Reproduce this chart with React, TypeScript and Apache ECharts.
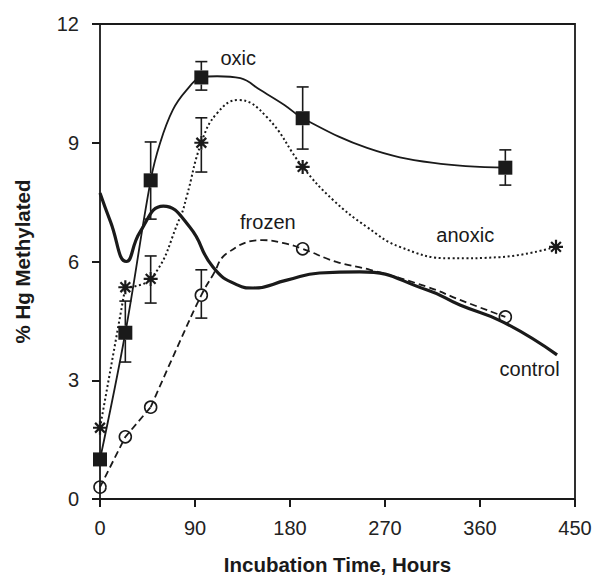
import React, { useEffect, useRef } from "react";
import * as echarts from "echarts";

// Axis ticks
const xTicks = [0, 90, 180, 270, 360, 450];
const yTicks = [0, 3, 6, 9, 12];

// Measured points (hours, % Hg methylated)
const oxicX = [0, 24, 48, 96, 192, 384];
const oxicY = [1.0, 4.2, 8.05, 10.65, 9.62, 8.37];
const oxicHi = [null, 5.0, 9.02, 11.05, 10.41, 8.82];
const oxicLo = [null, 3.46, 7.07, 10.33, 8.84, 7.93];

const anoxicX = [0, 24, 48, 96, 192, 432];
const anoxicY = [1.8, 5.35, 5.56, 9.0, 8.39, 6.37];
const anoxicHi = [null, null, 6.14, 9.63, null, null];
const anoxicLo = [null, null, 4.95, 8.26, null, null];

const frozenX = [0, 24, 48, 96, 192, 384];
const frozenY = [0.3, 1.57, 2.32, 5.15, 6.32, 4.6];
const frozenHi = [null, null, null, 5.79, null, null];
const frozenLo = [null, null, null, 4.57, null, null];

// Fitted curves
const oxicCurveX = [0, 24, 48, 57, 69, 82, 96, 111, 133, 152, 175, 192, 253, 316, 384];
const oxicCurveY = [1.0, 4.2, 8.05, 9.0, 9.83, 10.33, 10.65, 10.68, 10.63, 10.33, 9.95, 9.62, 8.87, 8.49, 8.37];

const anoxicCurveX = [0, 24, 48, 76, 82, 96, 111, 131, 158, 192, 221, 253, 284, 332, 379, 432];
const anoxicCurveY = [1.8, 5.35, 5.56, 7.12, 7.63, 9.0, 9.75, 10.08, 9.65, 8.39, 7.55, 6.87, 6.37, 6.08, 6.11, 6.37];

const frozenCurveX = [0, 24, 48, 76, 96, 107, 120, 154, 173, 192, 224, 256, 310, 341, 384];
const frozenCurveY = [0.3, 1.57, 2.32, 4.0, 5.15, 5.66, 6.2, 6.54, 6.47, 6.32, 5.99, 5.79, 5.36, 5.03, 4.6];

const controlX = [0, 10, 25, 38, 60, 85, 107, 130, 145, 177, 208, 246, 310, 341, 382, 433];
const controlY = [7.73, 7.0, 6.0, 6.75, 7.4, 6.87, 5.86, 5.41, 5.33, 5.53, 5.71, 5.74, 5.28, 4.9, 4.47, 3.64];

// Curve labels
const labelNames = ["oxic", "frozen", "anoxic", "control"];
const labelX = [131, 159, 346, 407];
const labelY = [11.14, 7.0, 6.67, 3.28];

const FONT = "'Liberation Sans', Arial, Helvetica, sans-serif";
const INK = "#1a1a1a";

const pairs = (xs: number[], ys: number[]) => xs.map((x, i) => [x, ys[i]]);

function errorSeries(xs: number[], ys: number[], his: (number | null)[], los: (number | null)[], gap: number) {
  const data = xs
    .map((x, i) => [x, ys[i], his[i] ?? ys[i], los[i] ?? ys[i]])
    .filter((d) => d[2] !== d[1] || d[3] !== d[1]);
  return {
    type: "custom",
    data,
    z: 4,
    clip: false,
    encode: { x: 0, y: 1 },
    renderItem: (_params: any, api: any) => {
      const x = api.value(0);
      const y = api.value(1);
      const hi = api.value(2);
      const lo = api.value(3);
      const c = api.coord([x, y]);
      const style = { stroke: INK, lineWidth: 1.6, fill: null };
      const children: any[] = [];
      if (hi - y > 0.01) {
        const h = api.coord([x, hi]);
        if (h[1] < c[1] - gap) {
          children.push({ type: "line", shape: { x1: c[0], y1: c[1] - gap, x2: c[0], y2: h[1] }, style });
        }
        children.push({ type: "line", shape: { x1: c[0] - 6, y1: h[1], x2: c[0] + 6, y2: h[1] }, style });
      }
      if (y - lo > 0.01) {
        const l = api.coord([x, lo]);
        if (l[1] > c[1] + gap) {
          children.push({ type: "line", shape: { x1: c[0], y1: c[1] + gap, x2: c[0], y2: l[1] }, style });
        }
        children.push({ type: "line", shape: { x1: c[0] - 6, y1: l[1], x2: c[0] + 6, y2: l[1] }, style });
      }
      return { type: "group", children };
    },
  };
}

const asterisk = "path://M5,0L5,10M0,5L10,5M1.5,1.5L8.5,8.5M1.5,8.5L8.5,1.5";

function curve(name: string, data: number[][], smooth: number | boolean, lineStyle: any) {
  return {
    name,
    type: "line",
    data,
    smooth,
    symbol: "none",
    showSymbol: false,
    lineStyle: { color: INK, ...lineStyle },
    z: 2,
  };
}

export default function App() {
  const ref = useRef<HTMLDivElement>(null);
  useEffect(() => {
    const chart = echarts.init(ref.current!, null, { renderer: "svg" });
    const anoxicPts = pairs(anoxicCurveX, anoxicCurveY);
    const frozenPts = pairs(frozenCurveX, frozenCurveY);
    const dotted = { width: 2, type: [2, 2.6] };
    const dashed = { width: 1.8, type: [7, 4] };
    const option: any = {
      animation: false,
      backgroundColor: "#fff",
      grid: {
        left: 100,
        right: 19,
        top: 24,
        bottom: 79,
        containLabel: false,
        outerBoundsMode: "none",
        show: true,
        borderColor: INK,
        borderWidth: 1.8,
        backgroundColor: "transparent",
      },
      xAxis: {
        type: "value",
        min: xTicks[0],
        max: xTicks[xTicks.length - 1],
        interval: xTicks[1] - xTicks[0],
        offset: 3,
        axisLine: { show: false },
        axisTick: { show: true, length: 8, lineStyle: { width: 2, color: INK } },
        axisLabel: { fontSize: 20, margin: 16, color: "#222", fontFamily: FONT },
        splitLine: { show: false },
        name: "Incubation Time, Hours",
        nameLocation: "middle",
        nameGap: 52,
        nameTextStyle: { fontSize: 20.5, fontWeight: "bold", color: INK, fontFamily: FONT },
      },
      yAxis: {
        type: "value",
        min: yTicks[0],
        max: yTicks[yTicks.length - 1],
        interval: yTicks[1] - yTicks[0],
        offset: 3,
        axisLine: { show: false },
        axisTick: { show: true, length: 8, lineStyle: { width: 2, color: INK } },
        axisLabel: { fontSize: 20, margin: 18, color: "#222", fontFamily: FONT },
        splitLine: { show: false },
        name: "% Hg Methylated",
        nameLocation: "middle",
        nameGap: 64,
        nameTextStyle: { fontSize: 20.5, fontWeight: "bold", color: INK, fontFamily: FONT },
      },
      series: [
        curve("control", pairs(controlX, controlY), 0.5, { width: 3.2 }),
        curve("oxic fit", pairs(oxicCurveX, oxicCurveY), 0.4, { width: 1.8 }),
        curve("anoxic fit start", anoxicPts.slice(0, 2), false, dotted),
        curve("anoxic fit", anoxicPts.slice(1), 0.45, dotted),
        curve("frozen fit start", frozenPts.slice(0, 3), false, dashed),
        curve("frozen fit", frozenPts.slice(2), 0.45, dashed),
        errorSeries(oxicX, oxicY, oxicHi, oxicLo, 7),
        errorSeries(anoxicX, anoxicY, anoxicHi, anoxicLo, 7),
        errorSeries(frozenX, frozenY, frozenHi, frozenLo, 6.5),
        {
          name: "oxic",
          type: "scatter",
          data: pairs(oxicX, oxicY),
          symbol: "rect",
          symbolSize: 14,
          clip: false,
          itemStyle: { color: INK, opacity: 1 },
          z: 5,
        },
        {
          name: "anoxic",
          type: "scatter",
          data: pairs(anoxicX, anoxicY),
          symbol: asterisk,
          symbolSize: 14,
          clip: false,
          itemStyle: { color: INK, borderColor: INK, borderWidth: 2.2, opacity: 1 },
          z: 5,
        },
        {
          name: "frozen",
          type: "scatter",
          data: pairs(frozenX, frozenY),
          symbol: "circle",
          symbolSize: 12,
          clip: false,
          itemStyle: { color: "transparent", borderColor: INK, borderWidth: 1.6, opacity: 1 },
          z: 5,
        },
        {
          type: "custom",
          data: labelNames.map((n, i) => [labelX[i], labelY[i], i]),
          clip: false,
          z: 6,
          encode: { x: 0, y: 1 },
          renderItem: (_p: any, api: any) => {
            const c = api.coord([api.value(0), api.value(1)]);
            return {
              type: "text",
              x: c[0],
              y: c[1],
              style: {
                text: labelNames[api.value(2)],
                fontSize: 20,
                fontFamily: FONT,
                fill: INK,
                align: "center",
                verticalAlign: "middle",
              },
            };
          },
        },
      ],
    };
    chart.setOption(option);
    return () => chart.dispose();
  }, []);
  return (
    <div
      ref={ref}
      style={{ position: "absolute", left: 0, top: 0, width: 594, height: 578, background: "#fff" }}
    />
  );
}
